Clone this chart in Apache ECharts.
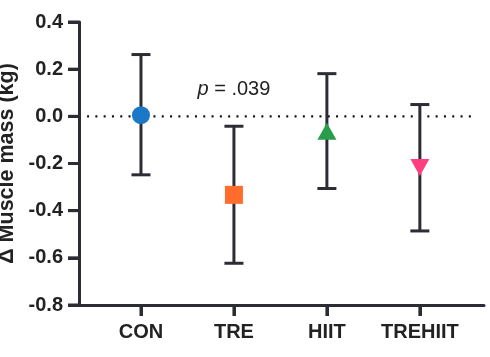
<!DOCTYPE html>
<html>
<head>
<meta charset="utf-8">
<script src="https://cdn.jsdelivr.net/npm/echarts@6/dist/echarts.min.js"></script>
<style>html,body{margin:0;padding:0;background:#fff}#c{width:490px;height:357px}</style>
</head>
<body>
<div id="c"></div>
<script>
const categories = ['CON', 'TRE', 'HIIT', 'TREHIIT'];
const means = [0.005, -0.333, -0.063, -0.217];
const errLow = [-0.248, -0.623, -0.306, -0.486];
const errHigh = [0.262, -0.042, 0.181, 0.050];
const colors = ['#1b78c6', '#ff6c2c', '#2a9d4a', '#ff3f80'];
const symbols = ['circle', 'rect', 'triangle', 'triangle'];
const symbolRotate = [0, 0, 0, 180];
const yTicks = [-0.8, -0.6, -0.4, -0.2, 0.0, 0.2, 0.4];
const zeroLineX = [0.42, 4.59];
const zeroLineY = 0;
const pText = '.039';

const dark = '#2c2c34';
const FONT = 'Liberation Sans, Arial, sans-serif';
const TICK_LEN = 11;
const X_MIN = 1 / 3, X_MAX = 4.69;
const chart = echarts.init(document.getElementById('c'), null, {renderer: 'canvas'});
const xs = categories.map((c, i) => i + 1);

const errData = xs.map((x, i) => [x, errLow[i], errHigh[i]]);

const scatterSeries = categories.map((c, i) => ({
  type: 'scatter',
  name: c,
  data: [[xs[i], means[i]]],
  symbol: symbols[i],
  symbolSize: symbols[i] === 'triangle' ? [19, 17] : 18,
  symbolRotate: symbolRotate[i],
  itemStyle: {color: colors[i], opacity: 1},
  z: 5
}));

chart.setOption({
  animation: false,
  grid: {left: 79, right: 6, top: 22, bottom: 52, containLabel: false, outerBoundsMode: 'none'},
  xAxis: {
    type: 'value',
    min: X_MIN,
    max: X_MAX,
    splitLine: {show: false},
    axisLine: {show: true, onZero: false, lineStyle: {color: dark, width: 3}},
    axisTick: {show: true, inside: false, length: TICK_LEN, lineStyle: {color: dark, width: 3}, customValues: xs},
    axisLabel: {
      customValues: xs,
      formatter: v => categories[Math.round(v) - 1] || '',
      color: '#222',
      fontFamily: FONT,
      fontWeight: 'bold',
      fontSize: 20,
      margin: 17
    }
  },
  yAxis: {
    type: 'value',
    min: yTicks[0],
    max: yTicks[yTicks.length - 1],
    interval: 0.2,
    name: 'Δ Muscle mass (kg)',
    nameLocation: 'middle',
    nameGap: 56,
    nameTextStyle: {color: '#222', fontFamily: FONT, fontWeight: 'bold', fontSize: 21.5},
    splitLine: {show: false},
    axisLine: {show: true, onZero: false, lineStyle: {color: dark, width: 3}},
    axisTick: {show: true, inside: false, length: TICK_LEN, lineStyle: {color: dark, width: 3}, customValues: yTicks},
    axisLabel: {
      customValues: yTicks,
      formatter: v => v.toFixed(1),
      color: '#222',
      fontFamily: FONT,
      fontWeight: 'bold',
      fontSize: 20,
      margin: 16
    }
  },
  series: [
    {
      type: 'custom',
      name: 'err',
      data: errData,
      z: 3,
      renderItem: function (params, api) {
        const x = api.value(0);
        const lo = api.coord([x, api.value(1)]);
        const hi = api.coord([x, api.value(2)]);
        const hw = 9.5;
        const st = {stroke: dark, lineWidth: 3, fill: null};
        return {
          type: 'group',
          children: [
            {type: 'line', shape: {x1: lo[0], y1: lo[1], x2: hi[0], y2: hi[1]}, style: st},
            {type: 'line', shape: {x1: lo[0] - hw, y1: lo[1], x2: lo[0] + hw, y2: lo[1]}, style: st},
            {type: 'line', shape: {x1: hi[0] - hw, y1: hi[1], x2: hi[0] + hw, y2: hi[1]}, style: st}
          ]
        };
      }
    },
    {
      type: 'line',
      name: 'zero',
      data: zeroLineX.map(x => [x, zeroLineY]),
      symbol: 'none',
      silent: true,
      z: 1,
      lineStyle: {color: '#111', width: 2.2, type: [2, 6.3]}
    }
  ].concat(scatterSeries)
});

// Tick marks and annotation placed through the chart's own scales
const toPx = (x, y) => chart.convertToPixel({gridIndex: 0}, [x, y]);
const tickGraphics = [];
yTicks.forEach(v => {
  const p = toPx(X_MIN, v);
  tickGraphics.push({type: 'line', silent: true, z: 10,
    shape: {x1: p[0] - TICK_LEN, y1: p[1], x2: p[0], y2: p[1]},
    style: {stroke: dark, lineWidth: 3}});
});
xs.forEach(x => {
  const p = toPx(x, yTicks[0]);
  tickGraphics.push({type: 'line', silent: true, z: 10,
    shape: {x1: p[0], y1: p[1], x2: p[0], y2: p[1] + TICK_LEN},
    style: {stroke: dark, lineWidth: 3}});
});
const pp = toPx(2, 0.113);
tickGraphics.push({
  type: 'text',
  z: 10,
  x: pp[0],
  y: pp[1],
  style: {
    text: '{i|p} = ' + pText,
    fontFamily: FONT,
    fontSize: 20,
    fill: '#222',
    align: 'center',
    verticalAlign: 'middle',
    rich: {i: {fontStyle: 'italic', fontSize: 20, fontFamily: FONT, fill: '#222'}}
  }
});
chart.setOption({graphic: tickGraphics});
</script>
</body>
</html>
